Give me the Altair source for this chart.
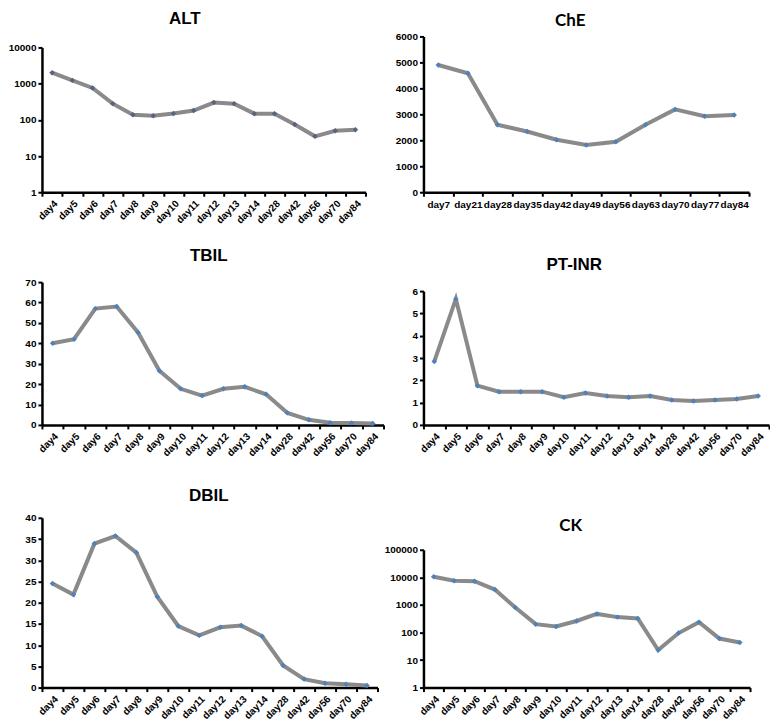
import altair as alt
import pandas as pd

days16 = ["day4", "day5", "day6", "day7", "day8", "day9", "day10", "day11",
          "day12", "day13", "day14", "day28", "day42", "day56", "day70", "day84"]
days_che = ["day7", "day21", "day28", "day35", "day42", "day49", "day56",
            "day63", "day70", "day77", "day84"]

alt_vals = [2000, 1230, 760, 280, 138, 130, 150, 180, 300, 280, 148, 148, 74, 35, 50, 53]
che_vals = [4900, 4580, 2600, 2340, 2020, 1820, 1940, 2600, 3190, 2930, 2970]
tbil_vals = [40, 42, 57, 58, 45.3, 26.6, 17.7, 14.4, 17.7, 18.7, 15, 5.9, 2.5, 1.1, 1.0, 0.7]
ptinr_vals = [2.84, 5.65, 1.76, 1.49, 1.49, 1.49, 1.24, 1.43, 1.30, 1.24, 1.30, 1.12, 1.07, 1.12, 1.16, 1.30]
dbil_vals = [24.5, 21.9, 33.9, 35.7, 31.8, 21.4, 14.5, 12.3, 14.2, 14.6, 12.1, 5.2, 2.0, 1.0, 0.8, 0.5]
ck_vals = [10500, 7500, 7200, 3600, 800, 200, 165, 260, 470, 360, 320, 23, 95, 235, 60, 43]

LINE_COLOR = "#8a8a8a"
POINT_COLOR = "#4f81bd"
ARIAL = "Liberation Sans"
CALIBRI = "Lato"


def panel(days, values, title, width, height, y_domain, y_ticks, log=False,
          top_offset=0, label_angle=-45, title_font=ARIAL, title_dx=0,
          title_dy=0, point_color=POINT_COLOR):
    df = pd.DataFrame({"day": days, "value": values})
    if log:
        yscale = alt.Scale(type="log", domain=y_domain, range=[height, top_offset], nice=False)
    else:
        yscale = alt.Scale(domain=y_domain, range=[height, top_offset], nice=False, zero=True)
    x = alt.X("day:N", sort=days, title=None,
              scale=alt.Scale(type="band", paddingInner=0, paddingOuter=0),
              axis=alt.Axis(labelAngle=label_angle, tickBand="extent", labelOverlap=False,
                            labelPadding=3 if label_angle == 0 else 2))
    y = alt.Y("value:Q", title=None, scale=yscale,
              axis=alt.Axis(values=y_ticks, format="d", labelOverlap=False))
    base = alt.Chart(df).encode(x=x, y=y)
    line = base.mark_line(color=LINE_COLOR, strokeWidth=4)
    pts = base.mark_point(filled=True, shape="diamond", size=30, color=point_color, opacity=1)
    return alt.layer(line, pts).properties(
        width=width, height=height,
        title=alt.TitleParams(title, font=title_font, fontSize=17, fontWeight="bold",
                              color="black", frame="group", anchor="middle",
                              dx=title_dx, dy=title_dy, offset=4),
    )


c_alt = panel(days16, alt_vals, "ALT", 324, 156, [1, 10000], [1, 10, 100, 1000, 10000],
              log=True, top_offset=11, title_dx=-19, title_dy=-4, point_color="#56657a")
c_che = panel(days_che, che_vals, "ChE", 326, 156, [0, 6000], [0, 1000, 2000, 3000, 4000, 5000, 6000],
              label_angle=0, title_font=CALIBRI, title_dx=-16, title_dy=3)
c_tbil = panel(days16, tbil_vals, "TBIL", 342, 143, [0, 70], [0, 10, 20, 30, 40, 50, 60, 70],
               title_dx=-4, title_dy=-8)
c_pt = panel(days16, ptinr_vals, "PT-INR", 346, 143, [0, 6], [0, 1, 2, 3, 4, 5, 6],
             top_offset=9, title_dx=-22, title_dy=-4)
c_dbil = panel(days16, dbil_vals, "DBIL", 336, 173, [0, 40], [0, 5, 10, 15, 20, 25, 30, 35, 40],
               top_offset=3, title_dx=-1, title_dy=-4)
c_ck = panel(days16, ck_vals, "CK", 327, 173, [1, 100000], [1, 10, 100, 1000, 10000, 100000],
             log=True, top_offset=35, title_font=CALIBRI, title_dx=-16, title_dy=24)

chart = alt.concat(c_alt, c_che, c_tbil, c_pt, c_dbil, c_ck, columns=2,
                   spacing={"row": 90, "column": 40}, bounds="flush").properties(
    padding={"top": 2, "left": 0, "right": 0, "bottom": 0}
).configure_view(stroke=None).configure_axis(
    grid=False, domainColor="black", domainWidth=2.5, tickColor="black", tickWidth=2,
    tickSize=4, labelFont=ARIAL, labelFontWeight="bold", labelFontSize=10,
    labelColor="black",
)

chart.save("out.html", embed_options={"renderer": "svg", "actions": False})
